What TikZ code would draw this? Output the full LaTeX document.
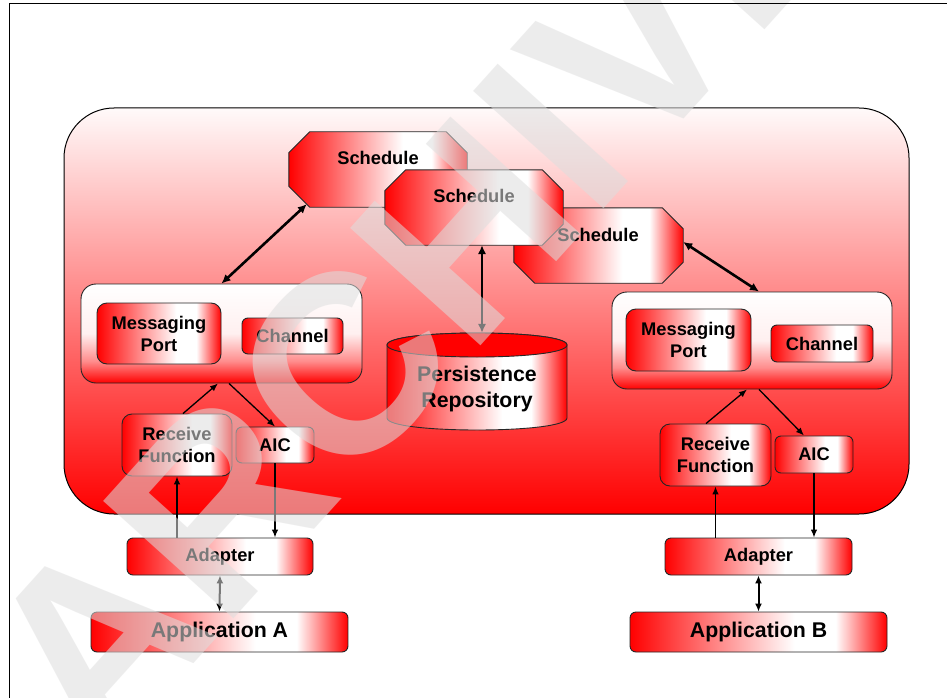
\documentclass[tikz,border=0pt]{standalone}
\usepackage{fontspec}
\setmainfont{Liberation Sans}
\usetikzlibrary{arrows.meta,calc}

% red-white-red glow used on all component boxes
\pgfdeclarehorizontalshading{boxglow}{100bp}{color(0bp)=(red); color(25bp)=(red); color(57bp)=(white); color(65bp)=(white); color(75bp)=(red); color(100bp)=(red)}
% white top fading to red bottom (port/channel groups)
\pgfdeclareverticalshading{groupfade}{100bp}{color(0bp)=(red); color(25bp)=(red); color(36bp)=(red!45!white); color(50bp)=(red!6!white); color(75bp)=(white); color(100bp)=(white)}
% large server panel
\pgfdeclareverticalshading{panelfade}{100bp}{color(0bp)=(red); color(25bp)=(red); color(45bp)=(red!60!white); color(75bp)=(red!2!white); color(100bp)=(red!2!white)}

\definecolor{stampgray}{RGB}{222,222,222}

\tikzset{
  lbl/.style={font=\bfseries\fontsize{18.3}{22}\selectfont, align=center, inner sep=0pt},
  biglbl/.style={font=\bfseries\fontsize{21.3}{26}\selectfont, align=center, inner sep=0pt},
  box/.style={draw=black!85, line width=0.9pt, rounded corners=8pt, shading=boxglow,
              inner sep=0pt, lbl},
  appbox/.style={box, biglbl},
  group/.style={draw=black!85, line width=0.9pt, rounded corners=15pt, shading=groupfade, inner sep=0pt},
  panel/.style={draw=black, line width=1pt, rounded corners=50pt, shading=panelfade, inner sep=0pt},
  edge/.style={draw=black!85, line width=0.9pt},
  flow/.style={line width=1.3pt, -{Latex[length=8pt,width=6.5pt]}},
  duo/.style={line width=2pt, {Latex[length=8pt,width=7pt]}-{Latex[length=8pt,width=7pt]}},
  link/.style={line width=2.6pt, {Latex[length=9pt,width=8.5pt]}-{Latex[length=9pt,width=8.5pt]}},
  stamp/.style={text=stampgray, text opacity=0.55, inner sep=0pt,
                font=\bfseries\fontsize{255}{255}\selectfont}
}

% octagonal schedule box: name, centre, width
\newcommand\chamferbox[3]{%
  \node[minimum width=#3, minimum height=75pt, inner sep=0pt] (#1) at (#2) {};
  \path[edge, shading=boxglow]
    ($(#1.north west)+(21,0)$) -- ($(#1.north east)+(-21,0)$) --
    ($(#1.north east)+(0,21)$) -- ($(#1.south east)+(0,-21)$) --
    ($(#1.south east)+(-21,0)$) -- ($(#1.south west)+(21,0)$) --
    ($(#1.south west)+(0,-21)$) -- ($(#1.north west)+(0,21)$) -- cycle;}

\begin{document}
\begin{tikzpicture}[x=1pt,y=-1pt]
\useasboundingbox (0,0) rectangle (947,698);
\fill[white] (0,0) rectangle (947,698);

% server panel
\node[panel, minimum width=845pt, minimum height=406pt] (core) at (486.5,311) {};

% port/channel groups
\node[group, minimum width=281pt, minimum height=99pt] (lgrp) at (221.5,333.5) {};
\node[group, minimum width=280pt, minimum height=97pt] (rgrp) at (752,340.5) {};

% left side components
\node[box, minimum width=124pt, minimum height=61pt, rounded corners=10pt] (mpl) at (159,333.5) {Messaging\\Port};
\node[box, minimum width=101pt, minimum height=36pt, rounded corners=6pt] (chl) at (292.5,336) {Channel};
\node[box, minimum width=110pt, minimum height=62pt, rounded corners=10pt] (rfl) at (177,445) {Receive\\Function};
\node[box, minimum width=78pt, minimum height=36pt, rounded corners=6pt] (aicl) at (275,445) {AIC};
\node[box, minimum width=186pt, minimum height=37pt, rounded corners=6pt] (adl) at (220,556.5) {Adapter};
\node[appbox, minimum width=257pt, minimum height=40pt, rounded corners=6pt] (appa) at (219.5,632) {Application A};

% right side components
\node[box, minimum width=125pt, minimum height=62pt, rounded corners=10pt] (mpr) at (688.5,340) {Messaging\\Port};
\node[box, minimum width=102pt, minimum height=37pt, rounded corners=6pt] (chr) at (822,343.5) {Channel};
\node[box, minimum width=111pt, minimum height=62pt, rounded corners=10pt] (rfr) at (715.5,455) {Receive\\Function};
\node[box, minimum width=78pt, minimum height=37pt, rounded corners=6pt] (aicr) at (814,454.5) {AIC};
\node[box, minimum width=187pt, minimum height=37pt, rounded corners=6pt] (adr) at (758.5,556.5) {Adapter};
\node[appbox, minimum width=257pt, minimum height=40pt, rounded corners=6pt] (appb) at (758.5,632) {Application B};

% schedules
\chamferbox{s1}{378,169.5}{178pt}
\chamferbox{s3}{598.5,245.5}{169pt}
\chamferbox{s2}{474,207.5}{178pt}
\node[lbl] (s1t) at (378,158) {Schedule};
\node[lbl] (s2t) at (474,196) {Schedule};
\node[lbl] (s3t) at (598,235) {Schedule};

% persistence repository cylinder
\node[minimum width=180pt, minimum height=97pt, inner sep=0pt] (repo) at (477,381.5) {};
\path[edge, shading=boxglow] (387,345) -- (387,418) .. controls (387,434) and (567,434) .. (567,418)
  -- (567,345) .. controls (567,329) and (387,329) .. (387,345) -- cycle;
\path[edge, fill=red] (387,345) .. controls (387,329) and (567,329) .. (567,345)
  .. controls (567,361) and (387,361) .. (387,345) -- cycle;
\node[biglbl] (repot) at (477,389) {Persistence\\Repository};

% connectors, left
\draw[link] (lgrp.north) -- ([shift={(18,-3)}]s1.south west);
\draw[flow] ([xshift=6pt]rfl.north) -- ([xshift=-3.5pt]lgrp.south);
\draw[flow] ([xshift=7.5pt]lgrp.south) -- (aicl.north);
\draw[flow] (rfl.south |- adl.north) -- (rfl.south);
\draw[flow] (aicl.south) -- (aicl.south |- adl.north);
\draw[duo] (adl.south) -- (appa.north);

% connectors, right
\draw[link] ([yshift=3.5pt]s3.east) -- ([xshift=7pt]rgrp.north);
\draw[flow] ([xshift=-9.5pt]rfr.north) -- ([xshift=-5pt]rgrp.south);
\draw[flow] ([xshift=7pt]rgrp.south) -- ([xshift=-10pt]aicr.north);
\draw[flow] (rfr.south |- adr.north) -- (rfr.south);
\draw[flow] (aicr.south) -- (aicr.south |- adr.north);
\draw[duo] (adr.south) -- (appb.north);

% schedule to repository
\draw[link] ([xshift=8pt]s2.south) -- ([xshift=8pt]s2.south |- repo.north);

% archive stamp
\node[stamp, rotate=48] (wm) at (480,215) {ARCHIVED};

% page frame
\draw[line width=1pt] (9,698) -- (9,4) -- (947,4);
\end{tikzpicture}
\end{document}
